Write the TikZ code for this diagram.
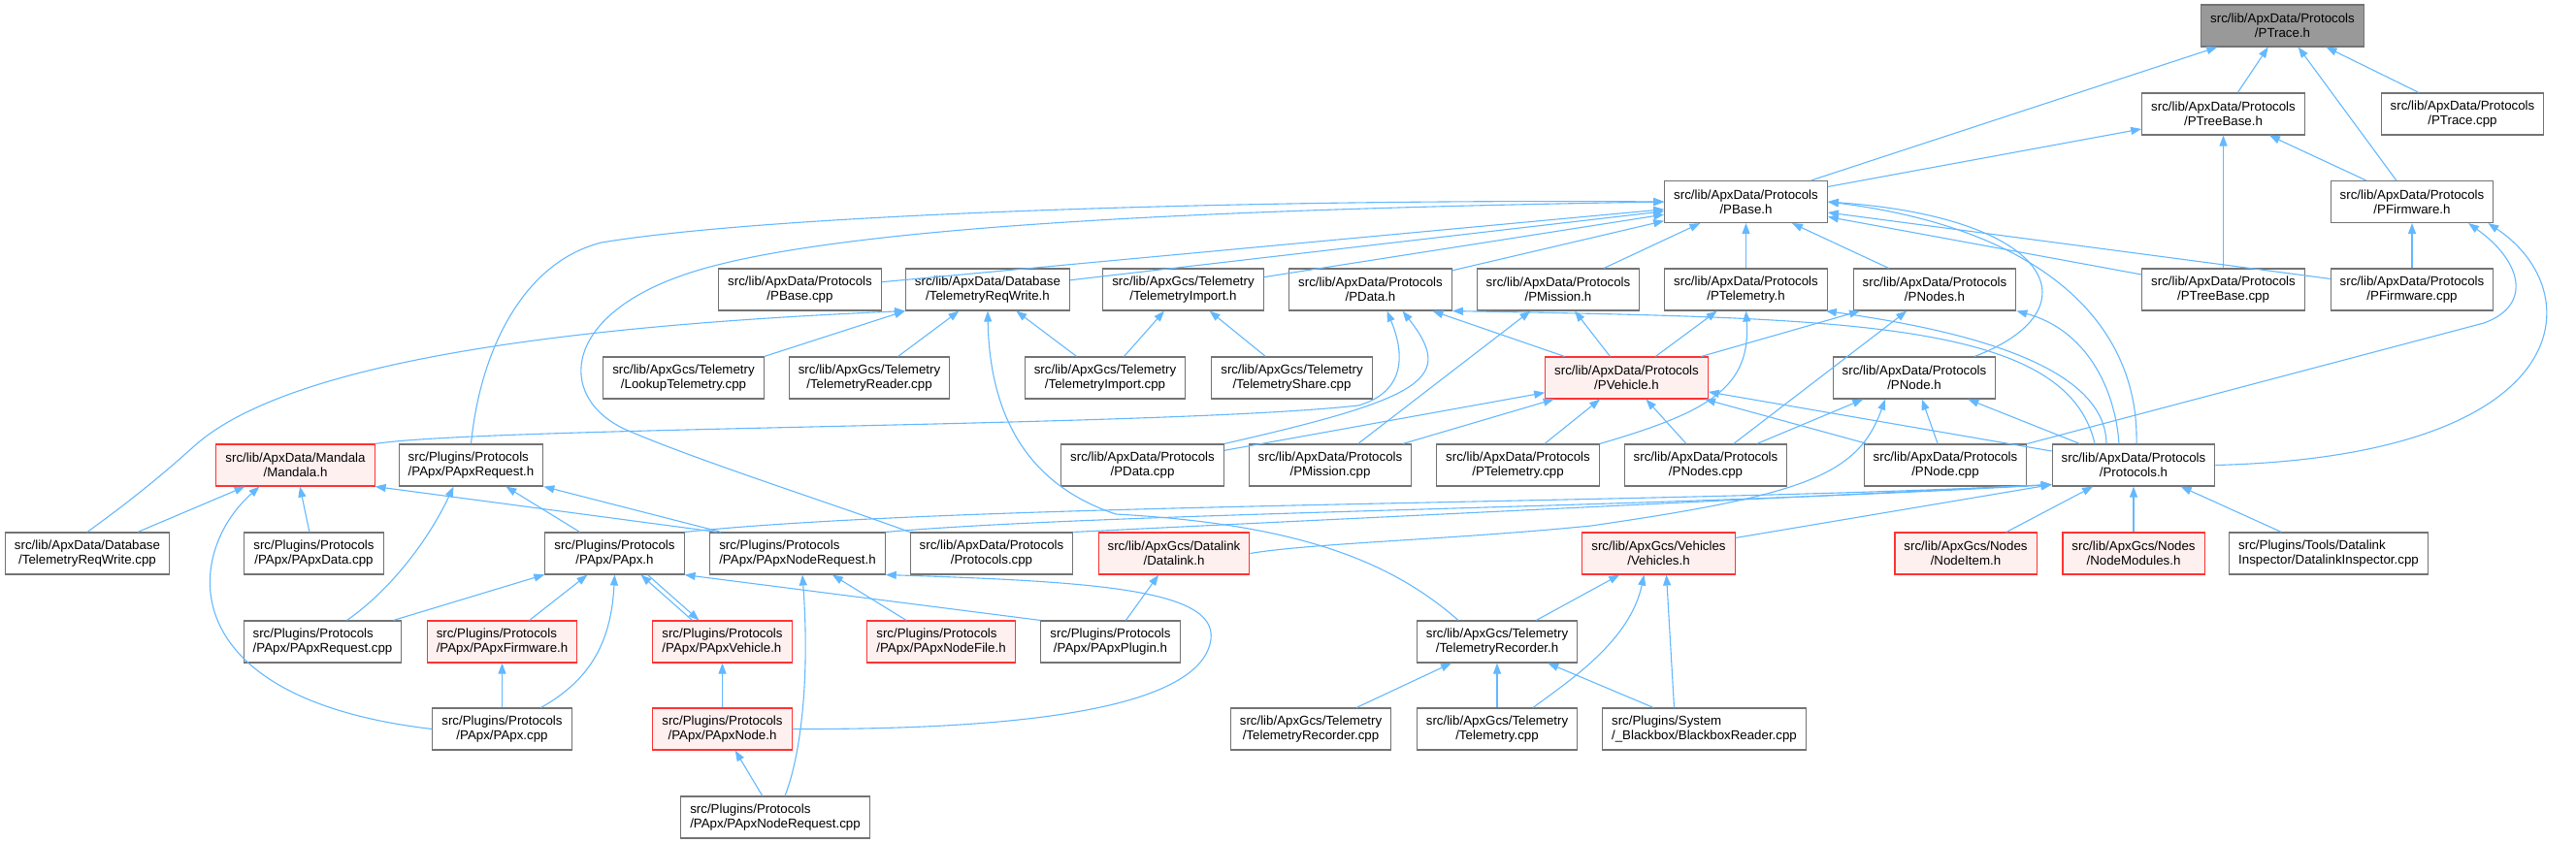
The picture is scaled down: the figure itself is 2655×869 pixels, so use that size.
\documentclass[tikz,border=0pt]{standalone}
\usepackage{fontspec}
\setmainfont{Liberation Sans}
\usetikzlibrary{arrows.meta}
\definecolor{edgeblue}{HTML}{63B8FF}
\definecolor{boxgray}{HTML}{737373}
\definecolor{rootgray}{HTML}{999999}
\definecolor{redfill}{HTML}{FFF0F0}
\definecolor{redline}{HTML}{FF3333}

\begin{document}
\begin{tikzpicture}[x=1pt, y=-1pt,
    file/.style={rectangle, draw=boxgray, line width=1.1pt, fill=white, minimum height=43pt,
                 inner xsep=9.5pt, inner ysep=2pt, align=center, font=\fontsize{13.3}{15.3}\selectfont},
    lfile/.style={file, align=left},
    redfile/.style={file, draw=redline},
    redfile/.append style={fill=redfill},
    lredfile/.style={redfile, align=left},
    rootfile/.style={file, fill=rootgray},
    incl/.style={{Triangle[length=11pt,width=8pt]}-, draw=edgeblue, line width=1.1pt}
]
\useasboundingbox (0,0) rectangle (2655,869);

% row 0 - 2
\node[rootfile] (ptraceh) at (2352.5,26.5) {src/lib/ApxData/Protocols\\/PTrace.h};
\node[file] (ptreebaseh) at (2291.5,117.5) {src/lib/ApxData/Protocols\\/PTreeBase.h};
\node[file] (ptracecpp) at (2538,117.5) {src/lib/ApxData/Protocols\\/PTrace.cpp};
\node[file] (pbaseh) at (1799.5,208) {src/lib/ApxData/Protocols\\/PBase.h};
\node[file] (pfirmwareh) at (2486,208) {src/lib/ApxData/Protocols\\/PFirmware.h};

% row 3
\node[file] (pbasecpp) at (824.5,298.5) {src/lib/ApxData/Protocols\\/PBase.cpp};
\node[file] (telreqwriteh) at (1018,298.5) {src/lib/ApxData/Database\\/TelemetryReqWrite.h};
\node[file] (telimporth) at (1219.5,298.5) {src/lib/ApxGcs/Telemetry\\/TelemetryImport.h};
\node[file] (pdatah) at (1412.5,298.5) {src/lib/ApxData/Protocols\\/PData.h};
\node[file] (pmissionh) at (1606,298.5) {src/lib/ApxData/Protocols\\/PMission.h};
\node[file] (ptelemetryh) at (1799.5,298.5) {src/lib/ApxData/Protocols\\/PTelemetry.h};
\node[file] (pnodesh) at (1994,298.5) {src/lib/ApxData/Protocols\\/PNodes.h};
\node[file] (ptreebasecpp) at (2291.5,298.5) {src/lib/ApxData/Protocols\\/PTreeBase.cpp};
\node[file] (pfirmwarecpp) at (2486,298.5) {src/lib/ApxData/Protocols\\/PFirmware.cpp};

% row 4
\node[file] (lookuptelcpp) at (704.5,389.5) {src/lib/ApxGcs/Telemetry\\/LookupTelemetry.cpp};
\node[file] (telreadercpp) at (896,389.5) {src/lib/ApxGcs/Telemetry\\/TelemetryReader.cpp};
\node[file] (telimportcpp) at (1139,389.5) {src/lib/ApxGcs/Telemetry\\/TelemetryImport.cpp};
\node[file] (telsharecpp) at (1331.5,389.5) {src/lib/ApxGcs/Telemetry\\/TelemetryShare.cpp};
\node[redfile] (pvehicleh) at (1676.5,389.5) {src/lib/ApxData/Protocols\\/PVehicle.h};
\node[file] (pnodeh) at (1973,389.5) {src/lib/ApxData/Protocols\\/PNode.h};

% row 5
\node[redfile] (mandalah) at (304.5,479.5) {src/lib/ApxData/Mandala\\/Mandala.h};
\node[lfile] (papxrequesth) at (485.5,479.5) {src/Plugins/Protocols\\/PApx/PApxRequest.h};
\node[file] (pdatacpp) at (1177.5,479.5) {src/lib/ApxData/Protocols\\/PData.cpp};
\node[file] (pmissioncpp) at (1371,479.5) {src/lib/ApxData/Protocols\\/PMission.cpp};
\node[file] (ptelemetrycpp) at (1564.5,479.5) {src/lib/ApxData/Protocols\\/PTelemetry.cpp};
\node[file] (pnodescpp) at (1758,479.5) {src/lib/ApxData/Protocols\\/PNodes.cpp};
\node[file] (pnodecpp) at (2005,479.5) {src/lib/ApxData/Protocols\\/PNode.cpp};
\node[file] (protocolsh) at (2199,479.5) {src/lib/ApxData/Protocols\\/Protocols.h};

% row 6
\node[file] (telreqwritecpp) at (90,570.5) {src/lib/ApxData/Database\\/TelemetryReqWrite.cpp};
\node[file] (papxdatacpp) at (323.5,570.5) {src/Plugins/Protocols\\/PApx/PApxData.cpp};
\node[file] (papxh) at (633.5,570.5) {src/Plugins/Protocols\\/PApx/PApx.h};
\node[lfile] (papxnoderequesth) at (822,570.5) {src/Plugins/Protocols\\/PApx/PApxNodeRequest.h};
\node[file] (protocolscpp) at (1022,570.5) {src/lib/ApxData/Protocols\\/Protocols.cpp};
\node[redfile] (datalinkh) at (1210,570.5) {src/lib/ApxGcs/Datalink\\/Datalink.h};
\node[redfile] (vehiclesh) at (1709.5,570.5) {src/lib/ApxGcs/Vehicles\\/Vehicles.h};
\node[redfile] (nodeitemh) at (2026,570.5) {src/lib/ApxGcs/Nodes\\/NodeItem.h};
\node[redfile] (nodemodulesh) at (2199,570.5) {src/lib/ApxGcs/Nodes\\/NodeModules.h};
\node[lfile] (datalinkinspcpp) at (2400,570.5) {src/Plugins/Tools/Datalink\\Inspector/DatalinkInspector.cpp};

% row 7
\node[lfile] (papxrequestcpp) at (332.5,661.5) {src/Plugins/Protocols\\/PApx/PApxRequest.cpp};
\node[lredfile] (papxfirmwareh) at (517.5,661.5) {src/Plugins/Protocols\\/PApx/PApxFirmware.h};
\node[lredfile] (papxvehicleh) at (744.5,661.5) {src/Plugins/Protocols\\/PApx/PApxVehicle.h};
\node[lredfile] (papxnodefileh) at (970,661.5) {src/Plugins/Protocols\\/PApx/PApxNodeFile.h};
\node[file] (papxpluginh) at (1144.5,661.5) {src/Plugins/Protocols\\/PApx/PApxPlugin.h};
\node[file] (telrecorderh) at (1543,661.5) {src/lib/ApxGcs/Telemetry\\/TelemetryRecorder.h};

% row 8 - 9
\node[file] (papxcpp) at (517.5,751.5) {src/Plugins/Protocols\\/PApx/PApx.cpp};
\node[redfile] (papxnodeh) at (744.5,751.5) {src/Plugins/Protocols\\/PApx/PApxNode.h};
\node[file] (telrecordercpp) at (1351,751.5) {src/lib/ApxGcs/Telemetry\\/TelemetryRecorder.cpp};
\node[file] (telemetrycpp) at (1543,751.5) {src/lib/ApxGcs/Telemetry\\/Telemetry.cpp};
\node[lfile] (blackboxcpp) at (1756.5,751.5) {src/Plugins/System\\/\_Blackbox/BlackboxReader.cpp};
\node[lfile] (papxnoderequestcpp) at (799,842.5) {src/Plugins/Protocols\\/PApx/PApxNodeRequest.cpp};

% includes: arrow at the included file
\draw[incl] (ptraceh) -- (pbaseh);
\draw[incl] (ptraceh) -- (ptreebaseh);
\draw[incl] (ptraceh) -- (pfirmwareh);
\draw[incl] (ptraceh) -- (ptracecpp);
\draw[incl] (ptreebaseh) -- (pbaseh);
\draw[incl] (ptreebaseh) -- (pfirmwareh);
\draw[incl] (ptreebaseh) -- (ptreebasecpp);
\draw[incl] (pfirmwareh) -- (pfirmwarecpp);

\draw[incl] (pbaseh) -- (pbasecpp);
\draw[incl] (pbaseh) -- (telreqwriteh);
\draw[incl] (pbaseh) -- (telimporth);
\draw[incl] (pbaseh) -- (pdatah);
\draw[incl] (pbaseh) -- (pmissionh);
\draw[incl] (pbaseh) -- (ptelemetryh);
\draw[incl] (pbaseh) -- (pnodesh);
\draw[incl] (pbaseh) -- (ptreebasecpp);
\draw[incl] (pbaseh) -- (pfirmwarecpp);
\draw[incl] (pbaseh.west) .. controls (1300,205) and (800,220) .. (620,250)
    .. controls (540,270) and (495,360) .. (papxrequesth.north);
\draw[incl] (pbaseh.west) .. controls (1300,215) and (850,230) .. (700,285)
    .. controls (575,330) and (575,415) .. (650,445)
    .. controls (720,475) and (860,520) .. (protocolscpp.north west);
\draw[incl] (pbaseh.east) .. controls (2120,225) and (2160,320) .. ([xshift=62pt]pnodeh.north);
\draw[incl] (pbaseh.east) .. controls (2100,235) and (2205,330) .. ([xshift=3pt]protocolsh.north);

\draw[incl] (telreqwriteh.south west) -- (lookuptelcpp.north east);
\draw[incl] (telreqwriteh) -- (telreadercpp);
\draw[incl] (telreqwriteh) -- (telimportcpp);
\draw[incl] (telreqwriteh.south west) .. controls (600,335) and (300,370) .. (200,460)
    .. controls (150,505) and (115,530) .. (telreqwritecpp.north);
\draw[incl] (telreqwriteh.south) .. controls (1020,430) and (1060,500) .. (1150,530)
    .. controls (1330,540) and (1430,575) .. ([xshift=-40pt]telrecorderh.north);
\draw[incl] (telimporth) -- (telimportcpp);
\draw[incl] (telimporth) -- (telsharecpp);

\draw[incl] (pdatah) -- (pvehicleh);
\draw[incl] ([xshift=17pt]pdatah.south) .. controls (1450,370) and (1445,405) .. (1400,418)
    .. controls (1200,440) and (500,440) .. (mandalah.north east);
\draw[incl] ([xshift=33pt]pdatah.south) .. controls (1500,390) and (1470,410) .. (pdatacpp.north east);
\draw[incl] (pdatah.south east) .. controls (1900,328) and (2130,330) .. ([xshift=-40pt]protocolsh.north);
\draw[incl] (pmissionh) -- (pvehicleh);
\draw[incl] (pmissionh) -- (pmissioncpp);
\draw[incl] (ptelemetryh) -- (pvehicleh);
\draw[incl] (ptelemetryh.south) .. controls (1805,400) and (1760,425) .. (ptelemetrycpp.north east);
\draw[incl] ([xshift=-2pt]ptelemetryh.south east) .. controls (2020,340) and (2170,375) .. ([xshift=-28pt]protocolsh.north);
\draw[incl] (pnodesh) -- (pvehicleh);
\draw[incl] (pnodesh) -- (pnodescpp);
\draw[incl] (pnodesh.south east) .. controls (2150,340) and (2180,400) .. ([xshift=-15pt]protocolsh.north);

\draw[incl] ([xshift=58pt]pfirmwareh.south) .. controls (2600,270) and (2610,315) .. (2560,333)
    -- (pnodecpp.north east);
\draw[incl] ([xshift=-6pt]pfirmwareh.south east) .. controls (2670,300) and (2660,470) .. (protocolsh.east);

\draw[incl] (pvehicleh) -- (pdatacpp);
\draw[incl] (pvehicleh) -- (pmissioncpp);
\draw[incl] (pvehicleh) -- (ptelemetrycpp);
\draw[incl] (pvehicleh) -- (pnodescpp);
\draw[incl] (pvehicleh) -- (pnodecpp);
\draw[incl] (pvehicleh) -- (protocolsh);
\draw[incl] (pnodeh) -- (pnodescpp);
\draw[incl] (pnodeh) -- (pnodecpp);
\draw[incl] (pnodeh) -- (protocolsh);
\draw[incl] ([xshift=-30pt]pnodeh.south) .. controls (1915,490) and (1860,510) .. (1640,542)
    .. controls (1500,556) and (1350,560) .. (datalinkh.east);

\draw[incl] (mandalah) -- (telreqwritecpp);
\draw[incl] (mandalah) -- (papxdatacpp);
\draw[incl] (mandalah.south east) -- ([xshift=8pt]papxnoderequesth.north west);
\draw[incl] ([xshift=-37pt]mandalah.south) .. controls (190,570) and (175,720) .. (papxcpp.west);
\draw[incl] (papxrequesth) -- (papxh);
\draw[incl] (papxrequesth.south east) -- ([xshift=12pt]papxnoderequesth.north west);
\draw[incl] ([xshift=-18pt]papxrequesth.south) .. controls (440,560) and (400,610) .. ([xshift=25pt]papxrequestcpp.north);

\draw[incl] ([yshift=2pt]protocolsh.south west) .. controls (1700,520) and (1000,518) .. (papxh.north east);
\draw[incl] ([yshift=2pt]protocolsh.south west) .. controls (1700,524) and (1150,528) .. (papxnoderequesth.north east);
\draw[incl] ([yshift=2pt]protocolsh.south west) -- (protocolscpp.north east);
\draw[incl] ([yshift=2pt]protocolsh.south west) -- ([yshift=-6pt]vehiclesh.north east);
\draw[incl] (protocolsh) -- (nodeitemh);
\draw[incl] (protocolsh) -- (nodemodulesh);
\draw[incl] (protocolsh) -- (datalinkinspcpp);

\draw[incl] (papxh) -- (papxrequestcpp);
\draw[incl] (papxh) -- (papxfirmwareh);
\draw[incl] (papxh.south east) -- (papxpluginh.north west);
\draw[incl] ([xshift=27pt]papxh.south) -- ([xshift=-31pt]papxvehicleh.north);
\draw[incl] ([xshift=-24pt]papxvehicleh.north) -- ([xshift=34pt]papxh.south);
\draw[incl] (papxh.south) .. controls (630,660) and (610,700) .. ([xshift=40pt]papxcpp.north);
\draw[incl] (papxnoderequesth) -- (papxnodefileh);
\draw[incl] ([xshift=5pt]papxnoderequesth.south) .. controls (835,700) and (825,780) .. ([xshift=10pt]papxnoderequestcpp.north);
\draw[incl] (papxnoderequesth.south east) .. controls (1150,600) and (1270,610) .. (1245,670)
    .. controls (1215,740) and (1000,752) .. (papxnodeh.east);
\draw[incl] (datalinkh) -- (papxpluginh);

\draw[incl] (vehiclesh) -- (telrecorderh);
\draw[incl] ([xshift=8pt]vehiclesh.south) -- ([xshift=-31pt]blackboxcpp.north);
\draw[incl] ([xshift=-15pt]vehiclesh.south) .. controls (1680,660) and (1620,700) .. ([xshift=37pt]telemetrycpp.north);
\draw[incl] (telrecorderh) -- (telrecordercpp);
\draw[incl] (telrecorderh) -- (telemetrycpp);
\draw[incl] (telrecorderh) -- (blackboxcpp);

\draw[incl] (papxfirmwareh) -- (papxcpp);
\draw[incl] (papxvehicleh) -- (papxnodeh);
\draw[incl] (papxnodeh) -- (papxnoderequestcpp);
\end{tikzpicture}
\end{document}
